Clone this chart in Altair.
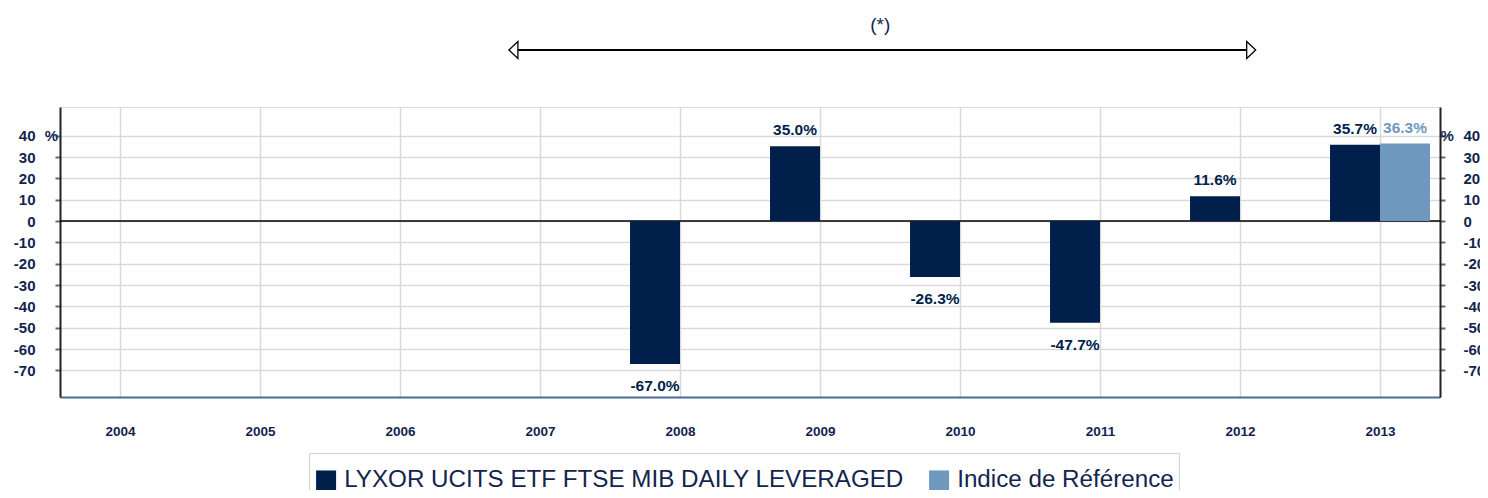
import altair as alt
import pandas as pd

# ---- data ----
years = [2004, 2005, 2006, 2007, 2008, 2009, 2010, 2011, 2012, 2013]
fund_values = [None, None, None, None, -67.0, 35.0, -26.3, -47.7, 11.6, 35.7]
index_values = [None, None, None, None, None, None, None, None, None, 36.3]
series_names = ["LYXOR UCITS ETF FTSE MIB DAILY LEVERAGED", "Indice de Référence"]
series_colors = ["#001f4b", "#6f98bf"]
y_ticks = [-70, -60, -50, -40, -30, -20, -10, 0, 10, 20, 30, 40]

NAVY = "#13254e"
FONT = "Liberation Sans"

rows = []
for yr, f, i in zip(years, fund_values, index_values):
    if f is not None:
        rows.append({"year": yr, "series": series_names[0], "value": f, "side": -1})
    if i is not None:
        rows.append({"year": yr, "series": series_names[1], "value": i, "side": 1})
df = pd.DataFrame(rows)

BW = 0.357  # bar width in category steps
xscale = alt.Scale(domain=[2004 - 60 / 140, 2013 + 60 / 140], nice=False, zero=False)
yscale = alt.Scale(domain=[-82.5, 53.44], nice=False, zero=False)
cscale = alt.Scale(domain=series_names, range=series_colors)

base = alt.Chart(df).transform_calculate(
    x0=f"datum.year + (datum.side < 0 ? -{BW} : 0)",
    x1=f"datum.year + (datum.side < 0 ? 0 : {BW})",
).transform_calculate(
    xc="(datum.x0 + datum.x1) / 2",
    label="(datum.value < 0 ? '-' : '') + format(abs(datum.value), '.1f') + '%'",
)

HYPHEN_LABEL = "(datum.value < 0 ? '-' : '') + abs(datum.value)"

left_axis = alt.Axis(
    values=y_ticks, grid=True, gridColor="#d9d9d9", gridWidth=1.5,
    tickSize=5, tickColor="#5b6b8a", tickWidth=2,
    domainColor="#222222", domainWidth=2,
    labelFontSize=15, labelFontWeight="bold", labelColor=NAVY, labelFont=FONT,
    labelPadding=20, title=None, labelExpr=HYPHEN_LABEL,
)
right_axis = alt.Axis(
    orient="right", values=y_ticks, grid=False,
    tickSize=5, tickColor="#5b6b8a", tickWidth=2,
    domainColor="#222222", domainWidth=2,
    labelFontSize=15, labelFontWeight="bold", labelColor=NAVY, labelFont=FONT,
    labelPadding=18, title=None, labelExpr=HYPHEN_LABEL,
)
x_axis = alt.Axis(
    values=years, format="d", grid=True, gridColor="#d9d9d9", gridWidth=1.5,
    ticks=False, tickSize=0, domainColor="#4a6a99", domainWidth=2,
    labelFontSize=13.5, labelFontWeight="bold", labelColor=NAVY, labelFont=FONT,
    labelPadding=27, title=None, labelFlush=False,
)

zero = alt.Chart(pd.DataFrame({"z": [0]})).mark_rule(color="black", strokeWidth=1.5).encode(
    y=alt.Y("z:Q", scale=yscale, axis=right_axis)
)

bars = base.mark_bar().encode(
    x=alt.X("x0:Q", scale=xscale, axis=x_axis),
    x2="x1:Q",
    y=alt.Y("value:Q", scale=yscale, axis=left_axis),
    y2=alt.datum(0),
    color=alt.Color(
        "series:N", scale=cscale,
        legend=alt.Legend(
            orient="none", legendX=249, legendY=346, direction="horizontal",
            title=" ", titleFontSize=10, titlePadding=0,
            symbolType="square", symbolSize=400, symbolStrokeWidth=0,
            labelFontSize=24.2, labelColor=NAVY, labelFont=FONT, labelLimit=0,
            strokeColor="#d3d3d3", padding=5, columnPadding=23, labelOffset=6,
        ),
    ),
)

pos_labels = base.transform_filter("datum.value > 0").mark_text(
    fontSize=15.5, fontWeight="bold", font=FONT, baseline="alphabetic", dy=-11
).encode(
    x=alt.X("xc:Q", scale=xscale),
    y=alt.Y("value:Q", scale=yscale, axis=None),
    text="label:N",
    color=alt.Color("series:N", scale=cscale, legend=None),
)
neg_labels = base.transform_filter("datum.value < 0").mark_text(
    fontSize=15.5, fontWeight="bold", font=FONT, baseline="alphabetic", dy=27
).encode(
    x=alt.X("xc:Q", scale=xscale),
    y=alt.Y("value:Q", scale=yscale, axis=None),
    text="label:N",
    color=alt.Color("series:N", scale=cscale, legend=None),
)

# annotation: period arrow with "(*)"
ARROW_Y = 80.16
arrow_x0, arrow_x1 = 2006.81, 2012.08
arrow_line = alt.Chart(pd.DataFrame({"a": [0]})).mark_rule(color="black", strokeWidth=2).encode(
    x=alt.X(datum=arrow_x0, type="quantitative", scale=xscale),
    x2=alt.datum(arrow_x1),
    y=alt.Y(datum=ARROW_Y, type="quantitative", scale=yscale, axis=None),
)
head_left = alt.Chart(pd.DataFrame({"a": [0]})).mark_point(
    shape="M0.53,-1L-0.53,0L0.53,1Z", size=289, filled=True, fill="white",
    stroke="black", strokeWidth=1.3, opacity=1,
).encode(
    x=alt.X(datum=arrow_x0, type="quantitative", scale=xscale),
    y=alt.Y(datum=ARROW_Y, type="quantitative", scale=yscale, axis=None),
)
head_right = alt.Chart(pd.DataFrame({"a": [0]})).mark_point(
    shape="M-0.53,-1L0.53,0L-0.53,1Z", size=289, filled=True, fill="white",
    stroke="black", strokeWidth=1.3, opacity=1,
).encode(
    x=alt.X(datum=arrow_x1, type="quantitative", scale=xscale),
    y=alt.Y(datum=ARROW_Y, type="quantitative", scale=yscale, axis=None),
)
star = alt.Chart(pd.DataFrame({"a": [0]})).mark_text(
    text="(*)", fontSize=19, font=FONT, color=NAVY, baseline="middle"
).encode(
    x=alt.X(datum=2009.43, type="quantitative", scale=xscale),
    y=alt.Y(datum=91.9, type="quantitative", scale=yscale, axis=None),
)
pct_left = alt.Chart(pd.DataFrame({"a": [0]})).mark_text(
    text="%", fontSize=15, fontWeight="bold", font=FONT, color=NAVY, baseline="middle"
).encode(
    x=alt.X(datum=2003.511, type="quantitative", scale=xscale),
    y=alt.Y(datum=40, type="quantitative", scale=yscale, axis=None),
)
pct_right = alt.Chart(pd.DataFrame({"a": [0]})).mark_text(
    text="%", fontSize=15, fontWeight="bold", font=FONT, color=NAVY, baseline="middle"
).encode(
    x=alt.X(datum=2013.479, type="quantitative", scale=xscale),
    y=alt.Y(datum=40, type="quantitative", scale=yscale, axis=None),
)

chart = alt.layer(
    zero, bars, pos_labels, neg_labels, arrow_line, head_left, head_right, star, pct_left, pct_right
).resolve_scale(y="independent").properties(
    width=1380, height=290,
    autosize=alt.AutoSizeParams(type="none"),
    padding={"left": 52, "top": 99, "right": 40, "bottom": 93},
).configure_view(stroke=None).configure(background="white", font=FONT)

chart.save("out.html", embed_options={"renderer": "svg", "actions": False})
